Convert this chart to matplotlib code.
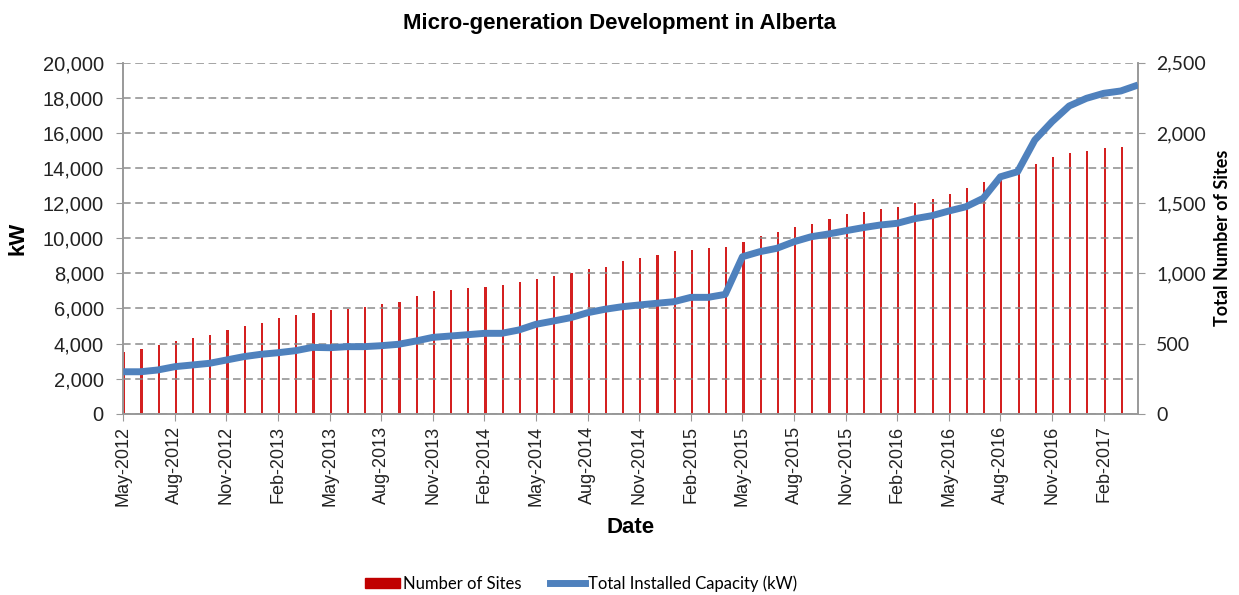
import pandas as pd
import matplotlib
matplotlib.use("Agg")
import matplotlib.pyplot as plt
from matplotlib.lines import Line2D
from matplotlib.patches import Patch

# monthly categories, May-2012 .. Apr-2017
months = pd.date_range("2012-05-01", periods=60, freq="MS")
month_labels = [d.strftime("%b-%Y") for d in months]

# number of sites (right axis) - no value for the last month
sites = [437, 463, 487, 518, 539, 561, 596, 627, 648, 682, 703, 715, 739, 746, 758,
         781, 796, 836, 872, 881, 893, 902, 915, 936, 957, 979, 1000, 1033, 1045, 1090, 1111,
         1133, 1157, 1166, 1178, 1187, 1223, 1264, 1296, 1330, 1353, 1385, 1420, 1439, 1460, 1472,
         1503, 1527, 1563, 1605, 1648, 1688, 1712, 1781, 1826, 1857, 1871, 1890, 1902]

# total installed capacity in kW (left axis)
capacity = [2390, 2390, 2490, 2680, 2775, 2870, 3060, 3250, 3385, 3475, 3590, 3780, 3760, 3820, 3820,
            3875, 3955, 4140, 4350, 4425, 4500, 4580, 4580, 4770, 5095, 5280, 5470, 5755, 5950, 6095, 6195,
            6290, 6380, 6630, 6630, 6800, 8945, 9230, 9425, 9800, 10085, 10240, 10425, 10600, 10750, 10850, 11110,
            11280, 11550, 11795, 12275, 13500, 13790, 15595, 16640, 17535, 17970, 18255, 18390, 18730]

fig = plt.figure(figsize=(12.39, 5.95), dpi=100)
ax = fig.add_axes([0.0995, 0.3047, 0.819, 0.5899])
ax2 = ax.twinx()

x_all = list(range(len(capacity)))
x_sites = [i + 0.06 for i in range(len(sites))]

bars = ax2.bar(x_sites, sites, width=0.12, color="#D42020", zorder=2)
for b in bars:
    b.set_clip_on(False)
ax.plot(x_all, capacity, color="#4F81BD", linewidth=5, solid_capstyle="butt",
        solid_joinstyle="round", zorder=3)

# line on top of bars
ax.set_zorder(ax2.get_zorder() + 1)
ax.patch.set_visible(False)

ax.set_xlim(0, 59)
ax.set_ylim(0, 20000)
ax2.set_ylim(0, 2500)
ax.set_yticks(range(0, 20001, 2000))
ax.set_yticklabels([f"{v:,}" for v in range(0, 20001, 2000)], fontsize=14.5,
                   family="Liberation Sans", color="#222222")
ax2.set_yticks(range(0, 2501, 500))
ax2.set_yticklabels([f"{v:,}" for v in range(0, 2501, 500)], fontsize=14, family="Lato",
                    color="#222222")

tick_pos = list(range(0, 60, 3))
ax.set_xticks(tick_pos)
ax.set_xticklabels([month_labels[i] for i in tick_pos], rotation=90, fontsize=13,
                   family="Liberation Sans", color="#222222")

ax.yaxis.grid(True, linestyle=(0, (5, 3)), color="#8c8c8c", linewidth=1.1)
ax.set_axisbelow(True)

for a in (ax, ax2):
    a.spines["top"].set_visible(False)
    for s in ("left", "right", "bottom"):
        a.spines[s].set_color("#999999")
        a.spines[s].set_linewidth(1.2)
    a.tick_params(colors="#999999", labelcolor="#222222", length=5)
ax.tick_params(axis="y", pad=9)
ax2.tick_params(axis="y", pad=8)

ax.set_ylabel("kW", fontsize=16, fontweight="bold", family="Liberation Sans", labelpad=10)
ax.set_xlabel("Date", fontsize=16, fontweight="bold", family="Liberation Sans", labelpad=8)
ax2.set_ylabel("Total Number of Sites", fontsize=13, fontweight="bold", family="Lato",
               labelpad=6)

fig.text(0.5, 0.96, "Micro-generation Development in Alberta", ha="center", va="center",
         fontsize=16, fontweight="bold", family="Liberation Sans")

handles = [Patch(color="#C00000"), Line2D([], [], color="#4F81BD", linewidth=5)]
fig.legend(handles, ["Number of Sites", "Total Installed Capacity (kW)"], loc="lower center",
           bbox_to_anchor=(0.469, -0.02), ncol=2, frameon=False, prop={"family": "Lato", "size": 12},
           handlelength=2.1, handleheight=0.55, columnspacing=1.7, handletextpad=0.2)

fig.savefig("out.png", dpi=100)
